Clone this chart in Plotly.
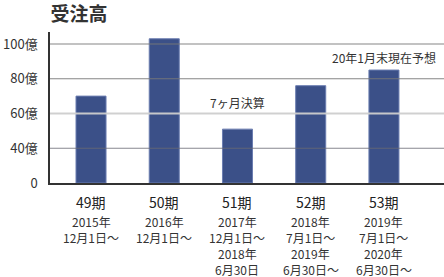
import numpy as np
import plotly.graph_objects as go

# ---- data ----
periods = ["49期", "50期", "51期", "52期", "53期"]
date_lines = [
    ["2015年", "12月1日〜"],
    ["2016年", "12月1日〜"],
    ["2017年", "12月1日〜", "2018年", "6月30日"],
    ["2018年", "7月1日〜", "2019年", "6月30日〜"],
    ["2019年", "7月1日〜", "2020年", "6月30日〜"],
]
orders = [70, 103, 51, 76, 85]          # 受注高 (億)
tick_vals = [0, 40, 60, 80, 100]
tick_text = ["0", "40億", "60億", "80億", "100億"]
notes = [("51期", 66.5, "7ヶ月決算"), ("53期", 92.5, "20年1月末現在予想")]


# broken axis: 0-40 compressed to the same height as a 20-unit step
def tr_lin(v):
    v = np.asarray(v, dtype=float)
    return np.where(v < 40, v / 2.0, v - 20.0)


FONT = "Noto Sans CJK JP"

fig = go.Figure()
fig.add_trace(go.Bar(
    x=periods, y=tr_lin(orders), width=0.41,
    marker=dict(color="#3b5088", line=dict(color="#6b7db0", width=1)),
    hoverinfo="skip",
))

# gridlines drawn above bars
grid_styles = {40: ("rgba(105,105,115,0.8)", 1.2), 60: ("rgba(205,205,205,0.95)", 2),
               80: ("rgba(120,120,120,0.9)", 1.2), 100: ("rgba(120,120,120,0.9)", 1.2)}
for v in tick_vals[1:]:
    c, w = grid_styles[v]
    fig.add_shape(type="line", xref="paper", yref="y", x0=0, x1=1,
                  y0=float(tr_lin(v)), y1=float(tr_lin(v)),
                  line=dict(color=c, width=w), layer="above")

for cat, yv, txt in notes:
    fig.add_annotation(x=cat, y=float(tr_lin(yv)), text=txt, showarrow=False,
                       font=dict(family=FONT, size=12, color="#333"),
                       xanchor="center", yanchor="middle")

# category labels below the axis (period + date lines)
for p, lines in zip(periods, date_lines):
    fig.add_annotation(x=p, xref="x", y=0, yref="paper", yshift=-18.5,
                       text=p, showarrow=False, xanchor="center", yanchor="middle",
                       borderpad=0, font=dict(family=FONT, size=14, color="#222"))
    for i, ln in enumerate(lines):
        fig.add_annotation(x=p, xref="x", y=0, yref="paper",
                           yshift=-(38 + 16 * i),
                           text=ln, showarrow=False, xanchor="center", yanchor="middle",
                           borderpad=0, font=dict(family=FONT, size=12, color="#333"))

fig.update_layout(
    width=444, height=277,
    margin=dict(l=50, r=0, t=32, b=94),
    paper_bgcolor="white", plot_bgcolor="white",
    showlegend=False,
    font=dict(family=FONT, size=12, color="#333"),
    title=dict(text="<b>受注高</b>", font=dict(family=FONT, size=19, color="#333"),
               xref="container", yref="container", x=79/444, xanchor="center",
               y=1 - 14/277, yanchor="middle"),
    xaxis=dict(range=[-0.56, 4.82], showticklabels=False, showgrid=False,
               showline=True, linecolor="#333", linewidth=1.5, ticks=""),
    yaxis=dict(range=[0, 86.9], tickmode="array",
               tickvals=[float(t) for t in tr_lin(tick_vals)], ticktext=tick_text,
               showgrid=False, showline=True, linecolor="#333", linewidth=1.5,
               ticks="", ticklabelstandoff=8, zeroline=False,
               tickfont=dict(family=FONT, size=13, color="#333")),
)

fig.write_html("out.html")
